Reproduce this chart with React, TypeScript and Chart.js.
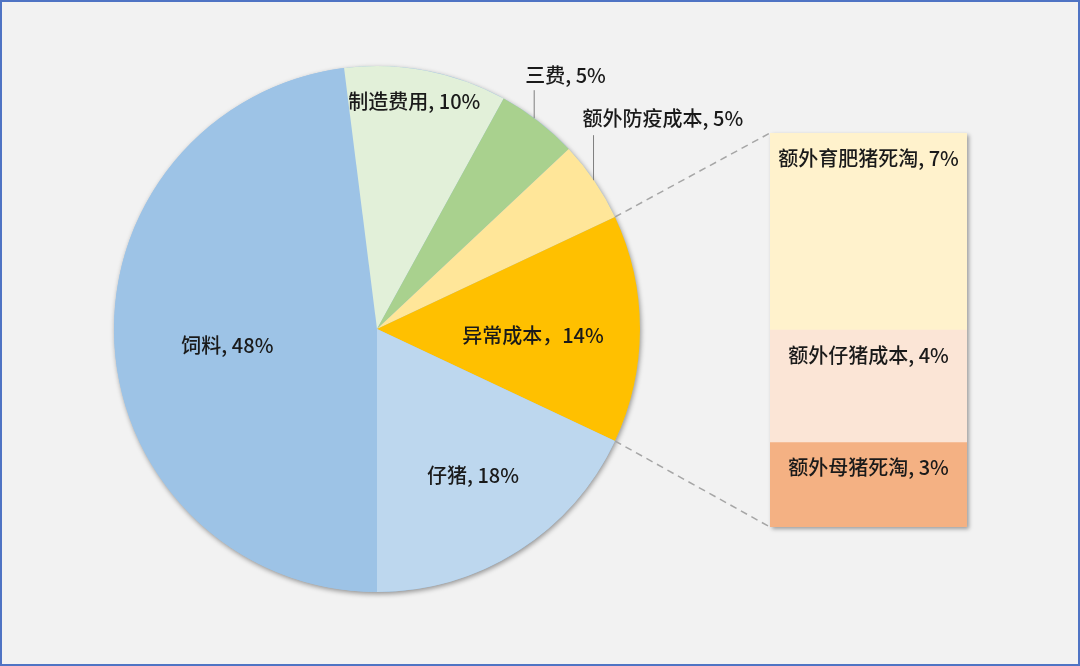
import { useEffect, useRef } from "react"
import { Chart, registerables } from "chart.js"

Chart.register(...registerables)

// pie slices, clockwise starting from 6 o'clock
const pieLabels = ["饲料", "制造费用", "三费", "额外防疫成本", "异常成本", "仔猪"]
const pieValues = [48, 10, 5, 5, 14, 18]
const pieColors = ["#9DC3E6", "#E2F0D9", "#A9D18E", "#FFE699", "#FFC000", "#BDD7EE"]
const pieSeparators = [", ", ", ", ", ", ", ", "，", ", "]

// breakdown of 异常成本, top to bottom
const barLabels = ["额外育肥猪死淘", "额外仔猪成本", "额外母猪死淘"]
const barValues = [7, 4, 3]
const barColors = ["#FFF2CC", "#FBE5D6", "#F4B183"]

const SPLIT_INDEX = 4 // slice that gets broken out into the bar
const FONT = '500 20px "Noto Sans CJK SC", "Noto Sans", sans-serif'
const TEXT = "#1a1a1a"

// bar box on the page
const BAR = { left: 770, top: 133, width: 197, height: 394 }

// label placement per slice (inside: radius fraction, outside: leader line)
const labelStyle: any[] = [
  { r: 0.57, dx: 0, dy: 7 },
  { r: 0.88, dx: -6, dy: 0 },
  { outside: true, dx: -13, dy: -46, lineX: -4, lineTop: -31, lineBottom: -3 },
  { outside: true, dx: -12, dy: -63, lineX: -1, lineTop: -46, lineBottom: -1 },
  { r: 0.593, dx: 0, dy: 6 },
  { r: 0.66, dx: 3, dy: 0 },
]

const pieDecor = {
  id: "pieDecor",
  beforeDatasetsDraw(chart: any) {
    const arc = chart.getDatasetMeta(0).data[0]
    if (!arc) return
    const ctx = chart.ctx
    ctx.save()
    ctx.shadowColor = "rgba(0,0,0,0.4)"
    ctx.shadowBlur = 5
    ctx.shadowOffsetX = 1
    ctx.shadowOffsetY = 2
    ctx.fillStyle = pieColors[0]
    ctx.beginPath()
    ctx.arc(arc.x, arc.y, arc.outerRadius, 0, Math.PI * 2)
    ctx.fill()
    ctx.restore()
  },
  afterDatasetsDraw(chart: any) {
    const ctx = chart.ctx
    const arcs = chart.getDatasetMeta(0).data
    ctx.save()
    ctx.font = FONT
    ctx.fillStyle = TEXT
    ctx.textBaseline = "middle"

    arcs.forEach((arc: any, i: number) => {
      const st = labelStyle[i]
      const mid = (arc.startAngle + arc.endAngle) / 2
      const text = pieLabels[i] + pieSeparators[i] + pieValues[i] + "%"
      if (st.outside) {
        const ex = arc.x + arc.outerRadius * Math.cos(mid)
        const ey = arc.y + arc.outerRadius * Math.sin(mid)
        ctx.strokeStyle = "#7f7f7f"
        ctx.lineWidth = 1
        ctx.beginPath()
        ctx.moveTo(ex + st.lineX, ey + st.lineBottom)
        ctx.lineTo(ex + st.lineX, ey + st.lineTop)
        ctx.stroke()
        ctx.textAlign = "left"
        ctx.fillText(text, ex + st.dx, ey + st.dy)
      } else {
        const r = arc.outerRadius * st.r
        ctx.textAlign = "center"
        ctx.fillText(text, arc.x + r * Math.cos(mid) + st.dx, arc.y + r * Math.sin(mid) + st.dy)
      }
    })

    // dashed connectors from the split slice to the bar
    const s = arcs[SPLIT_INDEX]
    if (s) {
      ctx.strokeStyle = "#a6a6a6"
      ctx.lineWidth = 1.5
      ctx.setLineDash([7, 5])
      ctx.beginPath()
      ctx.moveTo(s.x + s.outerRadius * Math.cos(s.startAngle), s.y + s.outerRadius * Math.sin(s.startAngle))
      ctx.lineTo(BAR.left, BAR.top)
      ctx.moveTo(s.x + s.outerRadius * Math.cos(s.endAngle), s.y + s.outerRadius * Math.sin(s.endAngle))
      ctx.lineTo(BAR.left, BAR.top + BAR.height)
      ctx.stroke()
    }
    ctx.restore()
  },
}

const barText = {
  id: "barText",
  afterDatasetsDraw(chart: any) {
    const ctx = chart.ctx
    ctx.save()
    ctx.font = FONT
    ctx.fillStyle = TEXT
    ctx.textAlign = "center"
    ctx.textBaseline = "middle"
    chart.data.datasets.forEach((ds: any, i: number) => {
      const bar = chart.getDatasetMeta(i).data[0]
      if (!bar) return
      const top = Math.min(bar.y, bar.base)
      ctx.fillText(ds.label + ", " + ds.data[0] + "%", bar.x, top + 25)
    })
    ctx.restore()
  },
}

export default function App() {
  const pieRef = useRef<HTMLCanvasElement>(null)
  const barRef = useRef<HTMLCanvasElement>(null)

  useEffect(() => {
    document.body.style.margin = "0"
    if (!pieRef.current || !barRef.current) return

    const pie = new Chart(pieRef.current, {
      type: "pie",
      data: {
        labels: pieLabels,
        datasets: [
          {
            data: pieValues,
            backgroundColor: pieColors,
            borderWidth: 0,
          },
        ],
      },
      options: {
        responsive: false,
        animation: false,
        rotation: 180,
        layout: { padding: { left: 114, right: 440, top: 66, bottom: 74 } },
        plugins: { legend: { display: false }, tooltip: { enabled: false } },
      },
      plugins: [pieDecor],
    })

    // stacked bottom-up, so feed the datasets in reverse
    const order = [...barLabels.keys()].reverse()
    const bar = new Chart(barRef.current, {
      type: "bar",
      data: {
        labels: ["异常成本"],
        datasets: order.map((i) => ({
          label: barLabels[i],
          data: [barValues[i]],
          backgroundColor: barColors[i],
          borderWidth: 0,
          barPercentage: 1,
          categoryPercentage: 1,
        })),
      },
      options: {
        responsive: false,
        animation: false,
        layout: { padding: 0 },
        scales: {
          x: { display: false, stacked: true },
          y: { display: false, stacked: true, min: 0, max: 14 },
        },
        plugins: { legend: { display: false }, tooltip: { enabled: false } },
      },
      plugins: [barText],
    })

    return () => {
      pie.destroy()
      bar.destroy()
    }
  }, [])

  return (
    <div style={{ position: "relative", width: 1080, height: 666, background: "#F2F2F2", overflow: "hidden" }}>
      <canvas ref={pieRef} width={1080} height={666} style={{ position: "absolute", left: 0, top: 0 }} />
      <canvas
        ref={barRef}
        width={BAR.width}
        height={BAR.height}
        style={{
          position: "absolute",
          left: BAR.left,
          top: BAR.top,
          boxShadow: "2px 2px 4px rgba(0,0,0,0.35)",
        }}
      />
      <div
        style={{
          position: "absolute",
          inset: 0,
          border: "2px solid #4F74C4",
          pointerEvents: "none",
        }}
      />
    </div>
  )
}
